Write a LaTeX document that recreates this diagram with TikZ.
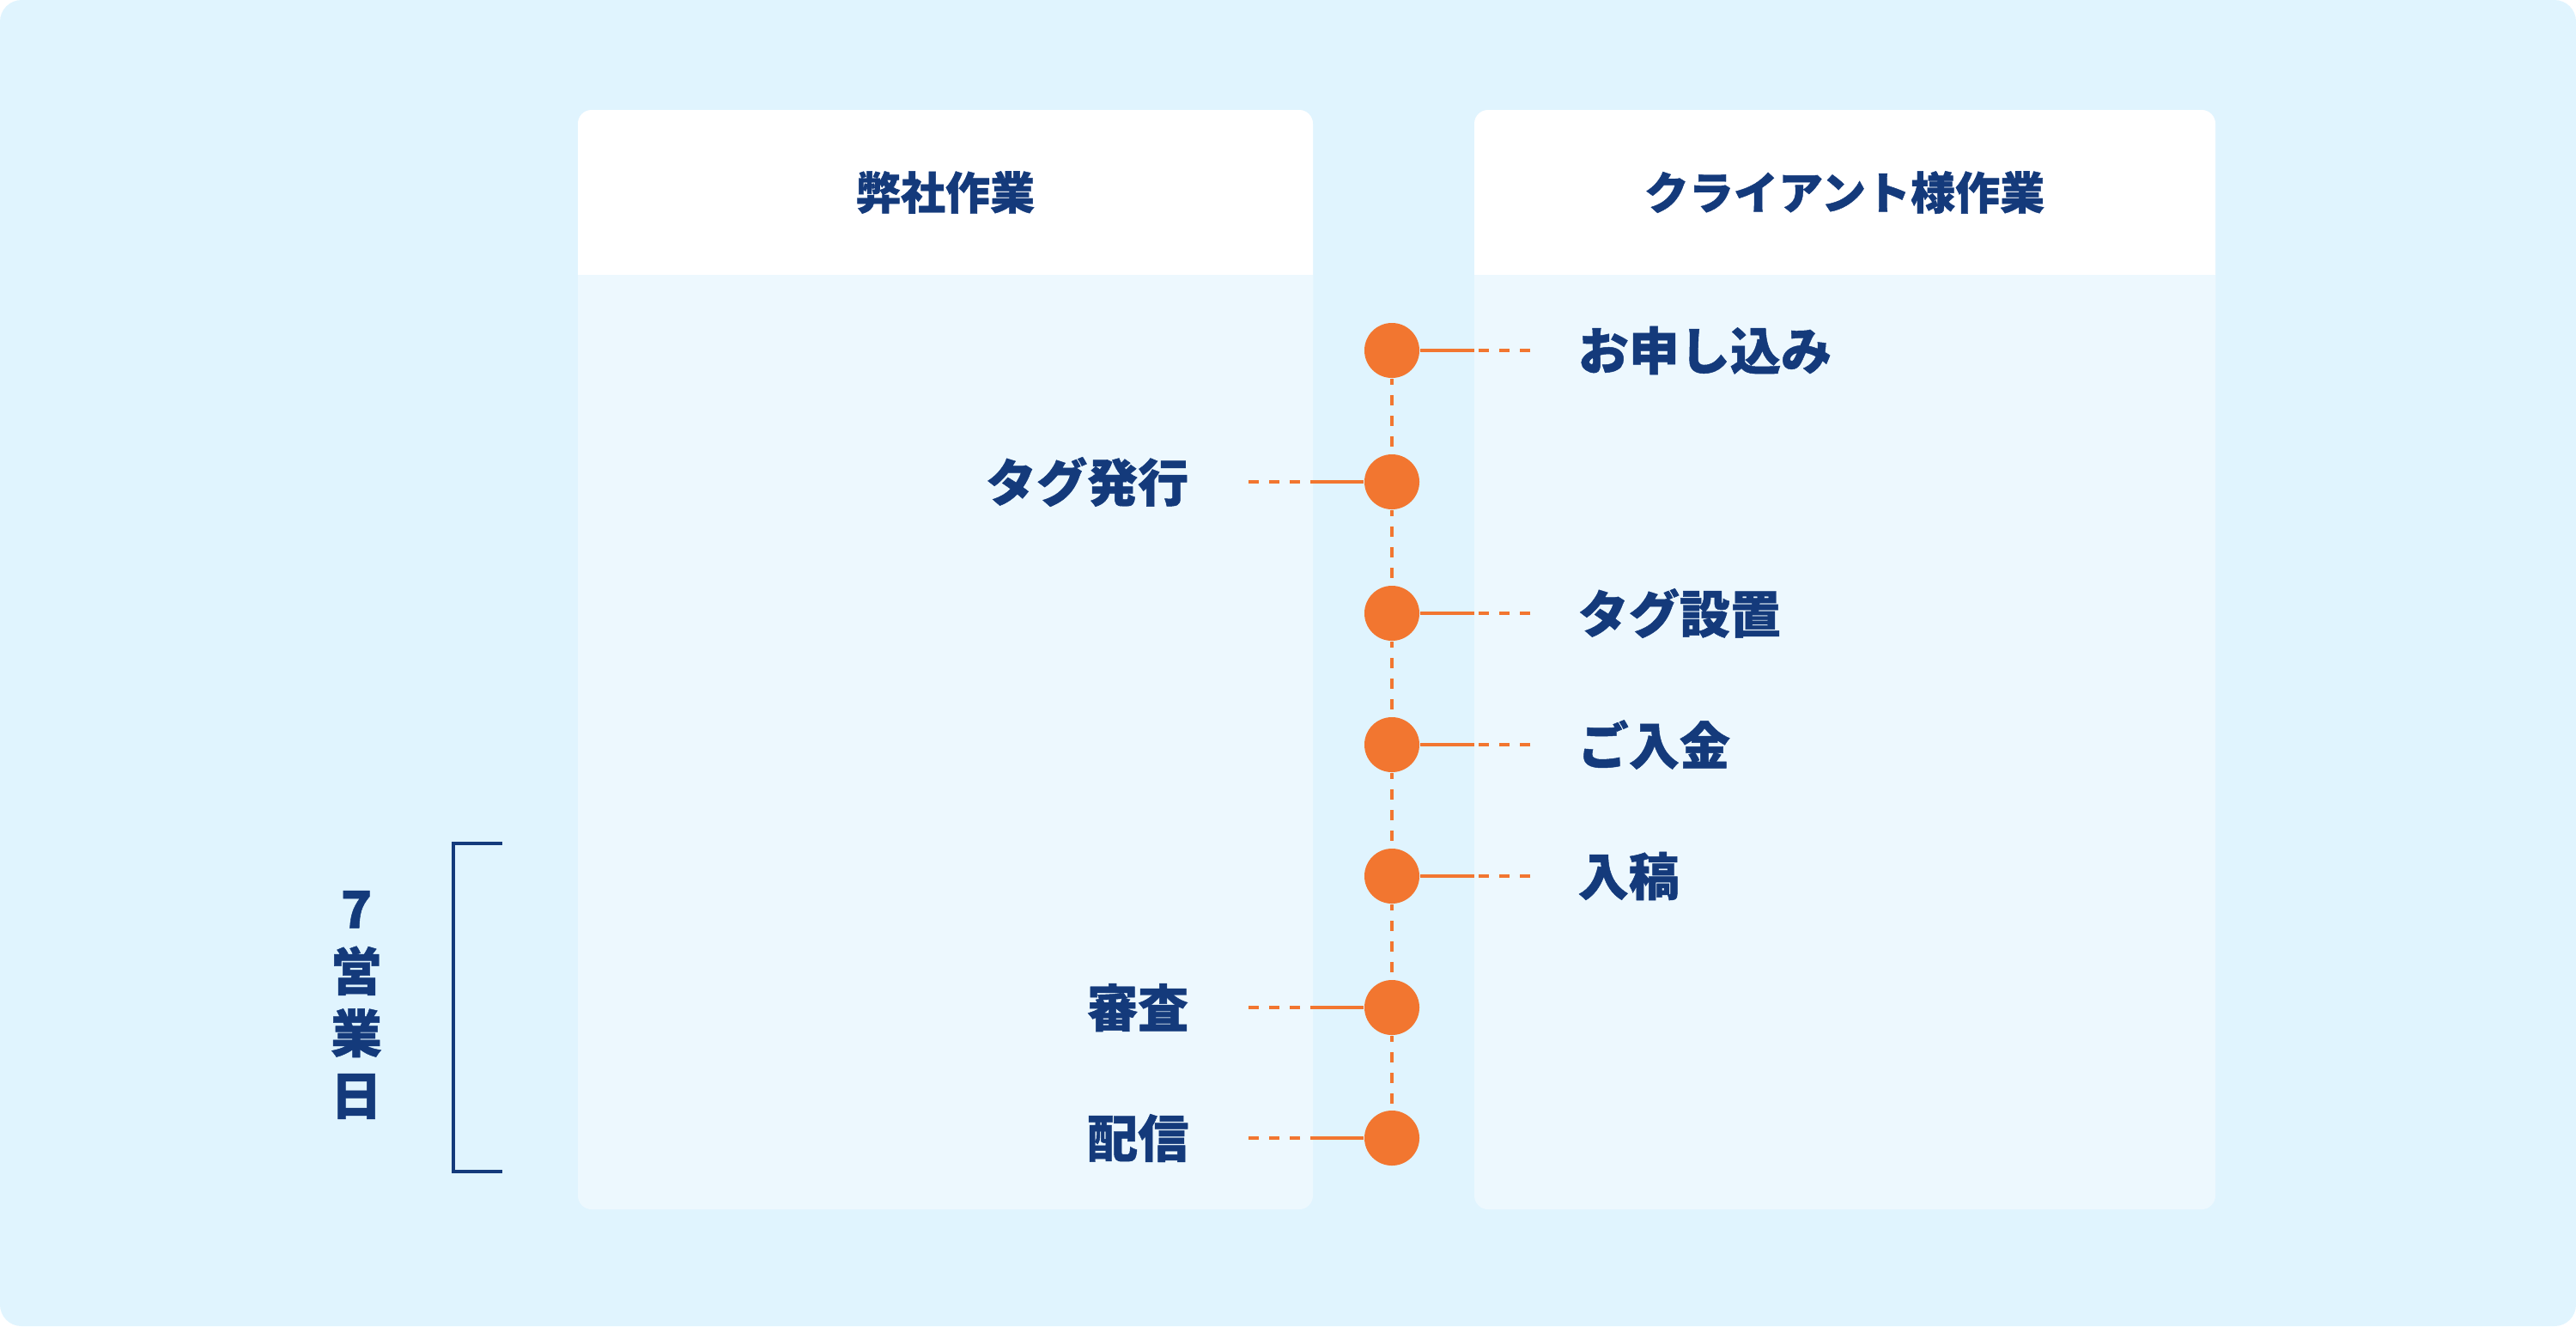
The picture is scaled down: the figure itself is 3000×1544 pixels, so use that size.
\documentclass[tikz,border=0pt]{standalone}
\usepackage{fontspec}
\newfontfamily\jp{Noto Sans CJK JP}[BoldFont={Noto Sans CJK JP Black}, BoldFeatures={FakeBold=0.8}]
\definecolor{bgblue}{HTML}{E0F4FE}
\definecolor{colbody}{HTML}{EDF8FE}
\definecolor{navy}{HTML}{143A7B}
\definecolor{dotorange}{HTML}{F27630}
\begin{document}
\begin{tikzpicture}[x=0.01cm,y=-0.01cm,
  lbl/.style={text=navy, font=\jp\bfseries\fontsize{16.8}{20}\selectfont, inner sep=0pt},
  hdr/.style={text=navy, font=\jp\bfseries\fontsize{14.8}{18}\selectfont, inner sep=0pt},
  dot/.style={circle, fill=dotorange, minimum size=0.64cm, inner sep=0pt},
  conn/.style={draw=dotorange, line width=0.04cm},
  dconn/.style={draw=dotorange, line width=0.04cm, dash pattern=on 0.12cm off 0.12cm},
  vconn/.style={draw=dotorange, line width=0.04cm, dash pattern=on 0.115cm off 0.125cm, dash phase=0.045cm}]
\useasboundingbox (0,0) rectangle (3000,1544);
\fill[bgblue, rounded corners=0.25cm] (0,0) rectangle (3000,1544);
% columns
\fill[colbody, rounded corners=0.16cm] (673,128) rectangle (1529,1408);
\fill[white, rounded corners=0.16cm] (673,128) rectangle (1529,400);
\fill[colbody] (673,320) rectangle (1529,420);
\fill[colbody, rounded corners=0.16cm] (1717,128) rectangle (2580,1408);
\fill[white, rounded corners=0.16cm] (1717,128) rectangle (2580,400);
\fill[colbody] (1717,320) rectangle (2580,420);
\node[hdr] (h1) at (1101,224) {弊社作業};
\node[hdr] (h2) at (2148,224) {クライアント様作業};
% dots
\node[dot] (d1) at (1621,408) {};
\node[dot] (d2) at (1621,561) {};
\node[dot] (d3) at (1621,714) {};
\node[dot] (d4) at (1621,867) {};
\node[dot] (d5) at (1621,1020) {};
\node[dot] (d6) at (1621,1173) {};
\node[dot] (d7) at (1621,1325) {};
\draw[vconn] (d1.south) -- (d2.north);
\draw[vconn] (d2.south) -- (d3.north);
\draw[vconn] (d3.south) -- (d4.north);
\draw[vconn] (d4.south) -- (d5.north);
\draw[vconn] (d5.south) -- (d6.north);
\draw[vconn] (d6.south) -- (d7.north);
% right-side labels
\foreach \n/\y/\t in {1/408/お申し込み, 3/714/タグ設置, 4/867/ご入金, 5/1020/入稿}{
  \coordinate (c\n) at (1717,\y);
  \coordinate (e\n) at (1782,\y);
  \draw[conn] (d\n.east) -- (c\n);
  \draw[dconn] (e\n) -- (c\n);
  \node[lbl, anchor=west] (t\n) at (1837,\y) {\t};
}
% left-side labels
\foreach \n/\y/\t in {2/561/タグ発行, 6/1173/審査, 7/1325/配信}{
  \coordinate (c\n) at (1526,\y);
  \coordinate (e\n) at (1454,\y);
  \draw[conn] (d\n.west) -- (c\n);
  \draw[dconn] (e\n) -- (c\n);
  \node[lbl, anchor=east] (t\n) at (1385,\y) {\t};
}
% bracket
\coordinate (b1) at (585,982);
\coordinate (b2) at (528,982);
\coordinate (b3) at (528,1364);
\coordinate (b4) at (585,1364);
\draw[navy, line width=0.04cm] (b1) -- (b2) -- (b3) -- (b4);
\node[text=navy, font=\jp\bfseries\fontsize{17}{20.6}\selectfont, inner sep=0pt, align=center] (days) at (415,1170) {7\\営\\業\\日};
\end{tikzpicture}
\end{document}
